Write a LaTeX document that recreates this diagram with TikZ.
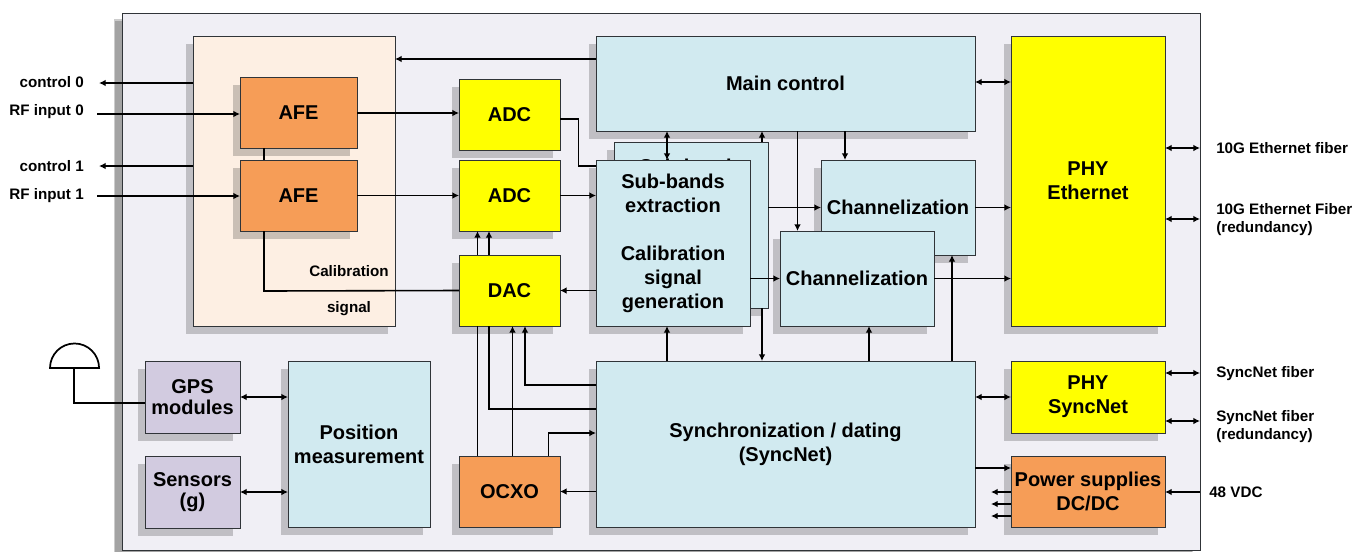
\documentclass[tikz,border=0pt]{standalone}
\usepackage{fontspec}
\setmainfont{Liberation Sans}
\usetikzlibrary{arrows.meta,shadows}
\definecolor{FrameBg}{HTML}{F0EFF5}
\definecolor{CalibBg}{HTML}{FDEFE3}
\definecolor{BlockBlue}{HTML}{D1EAF0}
\definecolor{BlockOrange}{HTML}{F69D57}
\definecolor{BlockYellow}{HTML}{FFFF00}
\definecolor{BlockPurple}{HTML}{D2CBE0}
\definecolor{EdgeGrey}{HTML}{303438}
\begin{document}
\begin{tikzpicture}[x=0.75pt,y=0.75pt,
  block/.style={rectangle, draw=EdgeGrey, line width=0.7pt, inner sep=0pt, outer sep=0pt, align=center,
                font=\bfseries\fontsize{15}{18}\selectfont,
                drop shadow={opacity=0.2, fill=black, shadow xshift=-5.6pt, shadow yshift=-5.8pt}},
  blue/.style={block, fill=BlockBlue},
  orange/.style={block, fill=BlockOrange},
  yellow/.style={block, fill=BlockYellow},
  purple/.style={block, fill=BlockPurple, font=\bfseries\fontsize{15}{15.75}\selectfont, minimum width=71.25pt, minimum height=54pt},
  conv/.style={yellow, minimum width=75.75pt, minimum height=53.25pt},
  afe/.style={orange, minimum width=87.75pt, minimum height=53.25pt},
  lbl/.style={inner sep=0pt, align=left, font=\bfseries\fontsize{11.4}{13.5}\selectfont},
  arr/.style={-{Latex[length=5pt,width=5pt]}, line width=1.2pt, draw=black},
  dbl/.style={{Latex[length=5pt,width=5pt]}-{Latex[length=5pt,width=5pt]}, line width=1.2pt, draw=black},
  wire/.style={line width=1.2pt, draw=black}]
  \useasboundingbox (0,0) rectangle (1352,-551);
  % frame and calibration area
  \node[block, fill=FrameBg, minimum width=808.5pt, minimum height=402.75pt,
        drop shadow={opacity=0.2, fill=black, shadow xshift=-6.2pt, shadow yshift=-4.5pt}] (board) at (661,-281.5) {};
  \node[block, fill=CalibBg, minimum width=151.5pt, minimum height=217.5pt] (calib) at (294,-181) {};
  \node[afe] (afeA) at (298.5,-112.5) {AFE};
  \node[afe] (afeB) at (298.5,-195.5) {AFE};
  \node[lbl] (calibTop) at (349,-271) {Calibration};
  \node[lbl] (calibBot) at (349,-309) {signal};
  % converters
  \node[conv] (adcA) at (509.5,-114.5) {ADC};
  \node[conv] (adcB) at (509.5,-195.5) {ADC};
  \node[conv] (dac) at (509.5,-290.5) {DAC};
  \node[orange, minimum width=75.75pt, minimum height=53.25pt] (ocxo) at (509.5,-491.5) {OCXO};
  % processing blocks
  \node[blue, minimum width=284.25pt, minimum height=71.25pt] (main) at (785.5,-83.5) {Main control};
  \node[blue, minimum width=115.5pt, minimum height=124.5pt] (subB) at (691,-225) {};
  \node[inner sep=0pt, font=\bfseries\fontsize{15}{18}\selectfont] (subBL) at (691,-166) {Sub-bands};
  \node[blue, minimum width=115.5pt, minimum height=124.5pt] (subA) at (673,-243) {Sub-bands\\extraction\\[18pt]Calibration\\signal\\generation};
  \node[blue, minimum width=115.5pt, minimum height=71.25pt] (chanB) at (898,-207.5) {Channelization};
  \node[blue, minimum width=115.5pt, minimum height=71.25pt] (chanA) at (857,-278.5) {Channelization};
  \node[blue, minimum width=284.25pt, minimum height=124.5pt] (sync) at (785.5,-444) {Synchronization / dating\\(SyncNet)};
  \node[blue, minimum width=106.5pt, minimum height=124.5pt] (pos) at (359,-444) {Position\\measurement};
  \node[purple] (gps) at (192.5,-397) {GPS\\modules};
  \node[purple] (sens) at (192.5,-492) {Sensors\\(g)};
  % right column
  \node[yellow, minimum width=115.5pt, minimum height=217.5pt] (phyEth) at (1088,-181) {PHY\\Ethernet};
  \node[yellow, minimum width=115.5pt, minimum height=54pt] (phySync) at (1088,-397) {PHY\\SyncNet};
  \node[orange, minimum width=115.5pt, minimum height=53.25pt] (power) at (1088,-491.5) {Power supplies\\DC/DC};
  % outside labels
  \node[lbl, anchor=east] (ctlAL) at (84,-82) {control 0};
  \node[lbl, anchor=east] (rfAL) at (84,-112) {RF input 0};
  \node[lbl, anchor=east] (ctlBL) at (84,-166) {control 1};
  \node[lbl, anchor=east] (rfBL) at (84,-196) {RF input 1};
  \node[lbl, anchor=west] (ethAL) at (1216,-148) {10G Ethernet fiber};
  \node[lbl, anchor=west] (ethBL) at (1216,-220) {10G Ethernet Fiber\\(redundancy)};
  \node[lbl, anchor=west] (synAL) at (1216,-374) {SyncNet fiber};
  \node[lbl, anchor=west] (synBL) at (1216,-427) {SyncNet fiber\\(redundancy)};
  \node[lbl, anchor=west] (vdcL) at (1209,-492) {48 VDC};
  % free ends and tap positions
  \coordinate (ctlA) at (99,-83);
  \coordinate (rfA) at (97,-114);
  \coordinate (ctlB) at (99,-166);
  \coordinate (rfB) at (97,-196);
  \coordinate (ethA) at (1200,-148);
  \coordinate (ethB) at (1200,-219);
  \coordinate (synA) at (1200,-373);
  \coordinate (synB) at (1200,-421);
  \coordinate (vdc) at (1200,-492);
  \coordinate (dcA) at (991,-492);
  \coordinate (dcB) at (991,-504);
  \coordinate (dcC) at (991,-516);
  \coordinate (antTop) at (74,-368);
  \coordinate (antLeft) at (50,-368);
  \coordinate (antBot) at (74,-403);
  \coordinate (tapCal) at (264,-291);
  \coordinate (tapAdc) at (578.5,-119);
  \coordinate (tapSub) at (578.5,-166);
  \coordinate (adcIn) at (0,-113);
  \coordinate (mainIn) at (0,-59);
  \coordinate (ethIn) at (0,-82);
  \coordinate (pwrIn) at (0,-468);
  \coordinate (upA) at (477.5,0);
  \coordinate (upB) at (489,0);
  \coordinate (dnA) at (512.5,0);
  \coordinate (dnB) at (525,-385);
  \coordinate (dnC) at (489,-409);
  \coordinate (osc) at (548.5,-433);
  \coordinate (mSub) at (667,0);
  \coordinate (mBack) at (762,0);
  \coordinate (mChanA) at (797.5,0);
  \coordinate (mChanB) at (845,0);
  \coordinate (sChanA) at (869,0);
  \coordinate (sChanB) at (952,0);
  % front end connectors
  \draw[arr] (calib.west |- ctlA) -- (ctlA);
  \draw[arr] (calib.west |- ctlB) -- (ctlB);
  \draw[arr] (rfA) -- (afeA.west |- rfA);
  \draw[arr] (rfB) -- (afeB.west |- rfB);
  \draw[wire] (afeA.south -| tapCal) -- (afeB.north -| tapCal);
  \draw[wire] (afeB.south -| tapCal) -- (tapCal) -- (dac.west);
  \draw[arr] (afeA.east |- adcIn) -- (adcA.west |- adcIn);
  \draw[arr] (afeB.east) -- (adcB.west);
  \draw[arr] (main.west |- mainIn) -- (calib.east |- mainIn);
  \draw[wire] (adcA.east |- tapAdc) -- (tapAdc) -- (tapSub) -- (subA.west |- tapSub);
  \draw[arr] (adcB.east) -- (subA.west |- adcB.east);
  \draw[arr] (subA.west |- dac.east) -- (dac.east);
  \draw[arr] (dac.north -| upA) -- (adcB.south -| upA);
  \draw[arr] (dac.north -| upB) -- (adcB.south -| upB);
  % timing connectors
  \draw[wire] (ocxo.north -| upA) -- (dac.south -| upA);
  \draw[wire] (dac.south -| dnC) -- (dnC) -- (sync.west |- dnC);
  \draw[arr] (ocxo.north -| dnA) -- (dac.south -| dnA);
  \draw[arr] (sync.west |- dnB) -- (dnB) -- (dac.south -| dnB);
  \draw[arr] (ocxo.north -| osc) -- (osc) -- (sync.west |- osc);
  \draw[arr] (sync.west |- ocxo.east) -- (ocxo.east);
  % processing connectors
  \draw[dbl] (main.south -| mSub) -- (subA.north -| mSub);
  \draw[arr] (subB.north -| mBack) -- (main.south -| mBack);
  \draw[arr] (subB.south -| mBack) -- (sync.north -| mBack);
  \draw[arr] (main.south -| mChanA) -- (chanA.north -| mChanA);
  \draw[arr] (main.south -| mChanB) -- (chanB.north -| mChanB);
  \draw[arr] (subB.east |- chanB.west) -- (chanB.west);
  \draw[arr] (subA.east |- chanA.west) -- (chanA.west);
  \draw[arr] (sync.north -| mSub) -- (subA.south -| mSub);
  \draw[arr] (sync.north -| sChanA) -- (chanA.south -| sChanA);
  \draw[arr] (sync.north -| sChanB) -- (chanB.south -| sChanB);
  \draw[arr] (chanB.east) -- (phyEth.west |- chanB.east);
  \draw[arr] (chanA.east) -- (phyEth.west |- chanA.east);
  % right side connectors
  \draw[dbl] (main.east |- ethIn) -- (phyEth.west |- ethIn);
  \draw[dbl] (sync.east |- phySync.west) -- (phySync.west);
  \draw[arr] (sync.east |- pwrIn) -- (power.west |- pwrIn);
  \draw[arr] (power.west |- dcA) -- (dcA);
  \draw[arr] (power.west |- dcB) -- (dcB);
  \draw[arr] (power.west |- dcC) -- (dcC);
  \draw[dbl] (phyEth.east |- ethA) -- (ethA);
  \draw[dbl] (phyEth.east |- ethB) -- (ethB);
  \draw[dbl] (phySync.east |- synA) -- (synA);
  \draw[dbl] (phySync.east |- synB) -- (synB);
  \draw[arr] (vdc) -- (power.east |- vdc);
  % position and antenna
  \draw[dbl] (gps.east) -- (pos.west |- gps.east);
  \draw[dbl] (sens.east) -- (pos.west |- sens.east);
  \draw[line width=1.3pt] (antLeft) arc[start angle=180, end angle=0, radius=18.4pt] -- cycle;
  \draw[line width=1.3pt] (antTop) -- (antBot) -- (gps.west |- antBot);
\end{tikzpicture}
\end{document}
